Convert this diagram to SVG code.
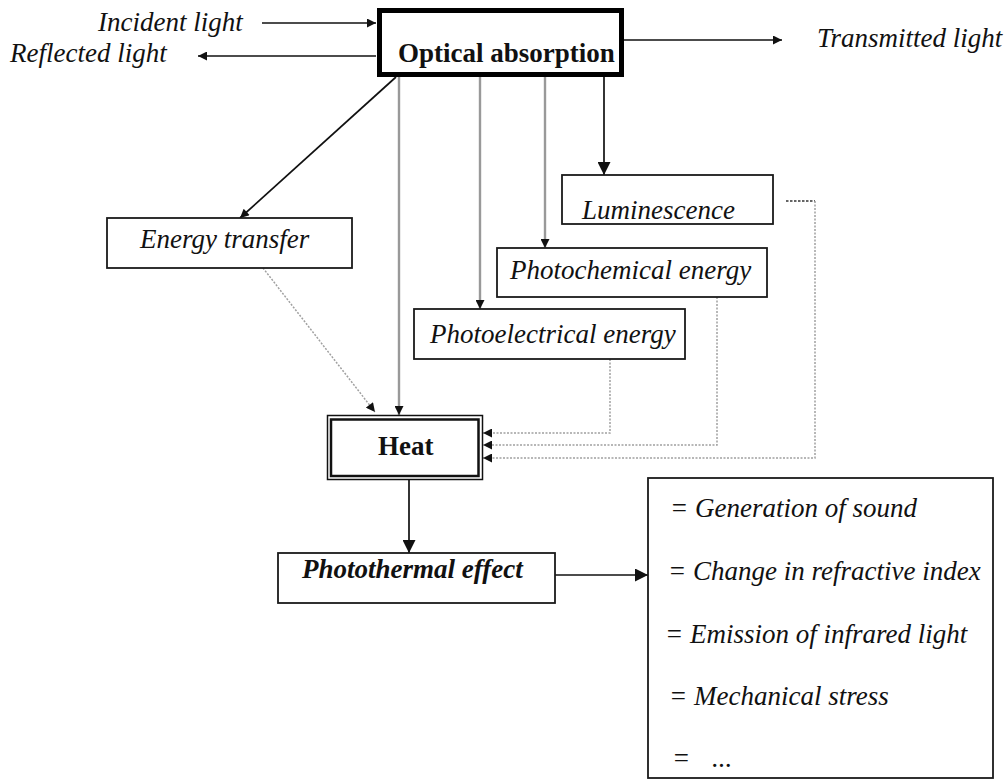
<svg xmlns="http://www.w3.org/2000/svg" width="1008" height="780" viewBox="0 0 1008 780">
  <style>
    .lbl { font-family: "Liberation Serif", "Times New Roman", serif; font-size: 27px; font-style: italic; fill: #111; }
    .bold { font-style: normal; font-weight: bold; }
    .bi { font-weight: bold; }
    .box { fill: #fff; stroke: #1a1a1a; stroke-width: 1.8; }
    .solid { fill: none; stroke: #111; stroke-width: 1.7; }
    .grey { fill: none; stroke: #999; stroke-width: 2.4; }
    .dot { fill: none; stroke: #a0a0a0; stroke-width: 1.5; stroke-dasharray: 2 1.5; }
    .dotdark { fill: none; stroke: #333; stroke-width: 1.6; stroke-dasharray: 2.5 1.5; }
  </style>
  <defs>
    <marker id="head" viewBox="0 0 10 10" refX="10" refY="5" markerWidth="11" markerHeight="9" markerUnits="userSpaceOnUse" orient="auto">
      <path d="M0,0 L10,5 L0,10 z" fill="#111"/>
    </marker>
    <marker id="headL" viewBox="0 0 10 10" refX="10" refY="5" markerWidth="15" markerHeight="13" markerUnits="userSpaceOnUse" orient="auto">
      <path d="M0,0 L10,5 L0,10 z" fill="#111"/>
    </marker>
  </defs>
  <rect width="1008" height="780" fill="#fff"/>

  <!-- connectors -->
  <g id="connectors">
    <line class="solid" x1="262" y1="23" x2="376" y2="23" marker-end="url(#head)"/>
    <line class="solid" x1="376" y1="56" x2="198" y2="56" marker-end="url(#head)"/>
    <line class="solid" x1="624" y1="40" x2="782" y2="40" marker-end="url(#head)"/>
    <line class="solid" x1="396" y1="77" x2="240" y2="218" marker-end="url(#head)"/>
    <line class="grey" x1="399" y1="77" x2="399" y2="415" marker-end="url(#head)"/>
    <line class="grey" x1="480" y1="77" x2="480" y2="309" marker-end="url(#head)"/>
    <line class="grey" x1="545" y1="77" x2="545" y2="248" marker-end="url(#head)"/>
    <line class="solid" x1="604" y1="77" x2="604" y2="175" marker-end="url(#headL)"/>
    <line class="dot" x1="263" y1="268" x2="375" y2="412" marker-end="url(#head)"/>
    <polyline class="dot" points="610,359 610,433 483,433" marker-end="url(#head)"/>
    <polyline class="dot" points="717,297 717,445 483,445" marker-end="url(#head)"/>
    <line class="dotdark" x1="786" y1="201" x2="815" y2="201"/>
    <polyline class="dot" points="815,201 815,458 483,458" marker-end="url(#head)"/>
    <line class="solid" x1="409" y1="479" x2="409" y2="553" marker-end="url(#headL)"/>
    <line class="solid" x1="555" y1="575" x2="648" y2="575" marker-end="url(#headL)"/>
  </g>

  <!-- free labels -->
  <g id="incident"><text class="lbl" x="98" y="31">Incident light</text></g>
  <g id="reflected"><text class="lbl" x="10" y="62">Reflected light</text></g>
  <g id="transmitted"><text class="lbl" x="817" y="47">Transmitted light</text></g>

  <g id="optical-absorption">
    <rect x="379.5" y="10.5" width="242" height="64" fill="#fff" stroke="#000" stroke-width="5"/>
    <text class="lbl bold" x="398" y="62">Optical absorption</text>
  </g>

  <g id="energy-transfer">
    <rect class="box" x="107" y="218" width="245" height="50"/>
    <text class="lbl" x="140" y="248">Energy transfer</text>
  </g>

  <g id="luminescence">
    <rect class="box" x="562" y="175" width="211" height="49"/>
    <text class="lbl" x="582" y="219">Luminescence</text>
  </g>

  <g id="photochemical">
    <rect class="box" x="497" y="248" width="270" height="49"/>
    <text class="lbl" x="510" y="279">Photochemical energy</text>
  </g>

  <g id="photoelectrical">
    <rect class="box" x="414" y="309" width="271" height="50"/>
    <text class="lbl" x="430" y="343">Photoelectrical energy</text>
  </g>

  <g id="heat">
    <rect x="327.5" y="415.5" width="155" height="64" fill="#fff" stroke="#111" stroke-width="1.5"/>
    <rect x="331" y="419.5" width="147.5" height="56.5" fill="#fff" stroke="#111" stroke-width="2.5"/>
    <text class="lbl bold" x="378" y="455">Heat</text>
  </g>

  <g id="photothermal">
    <rect class="box" x="278" y="553" width="277" height="50"/>
    <text class="lbl bi" x="302" y="578">Photothermal effect</text>
  </g>

  <g id="effects">
    <rect class="box" x="648" y="478" width="345" height="300"/>
    <text class="lbl" x="670" y="517">= Generation of sound</text>
    <text class="lbl" x="668" y="580">= Change in refractive index</text>
    <text class="lbl" x="665" y="643">= Emission of infrared light</text>
    <text class="lbl" x="669" y="705">= Mechanical stress</text>
    <text class="lbl" x="672" y="767">=<tspan x="712">...</tspan></text>
  </g>
</svg>
